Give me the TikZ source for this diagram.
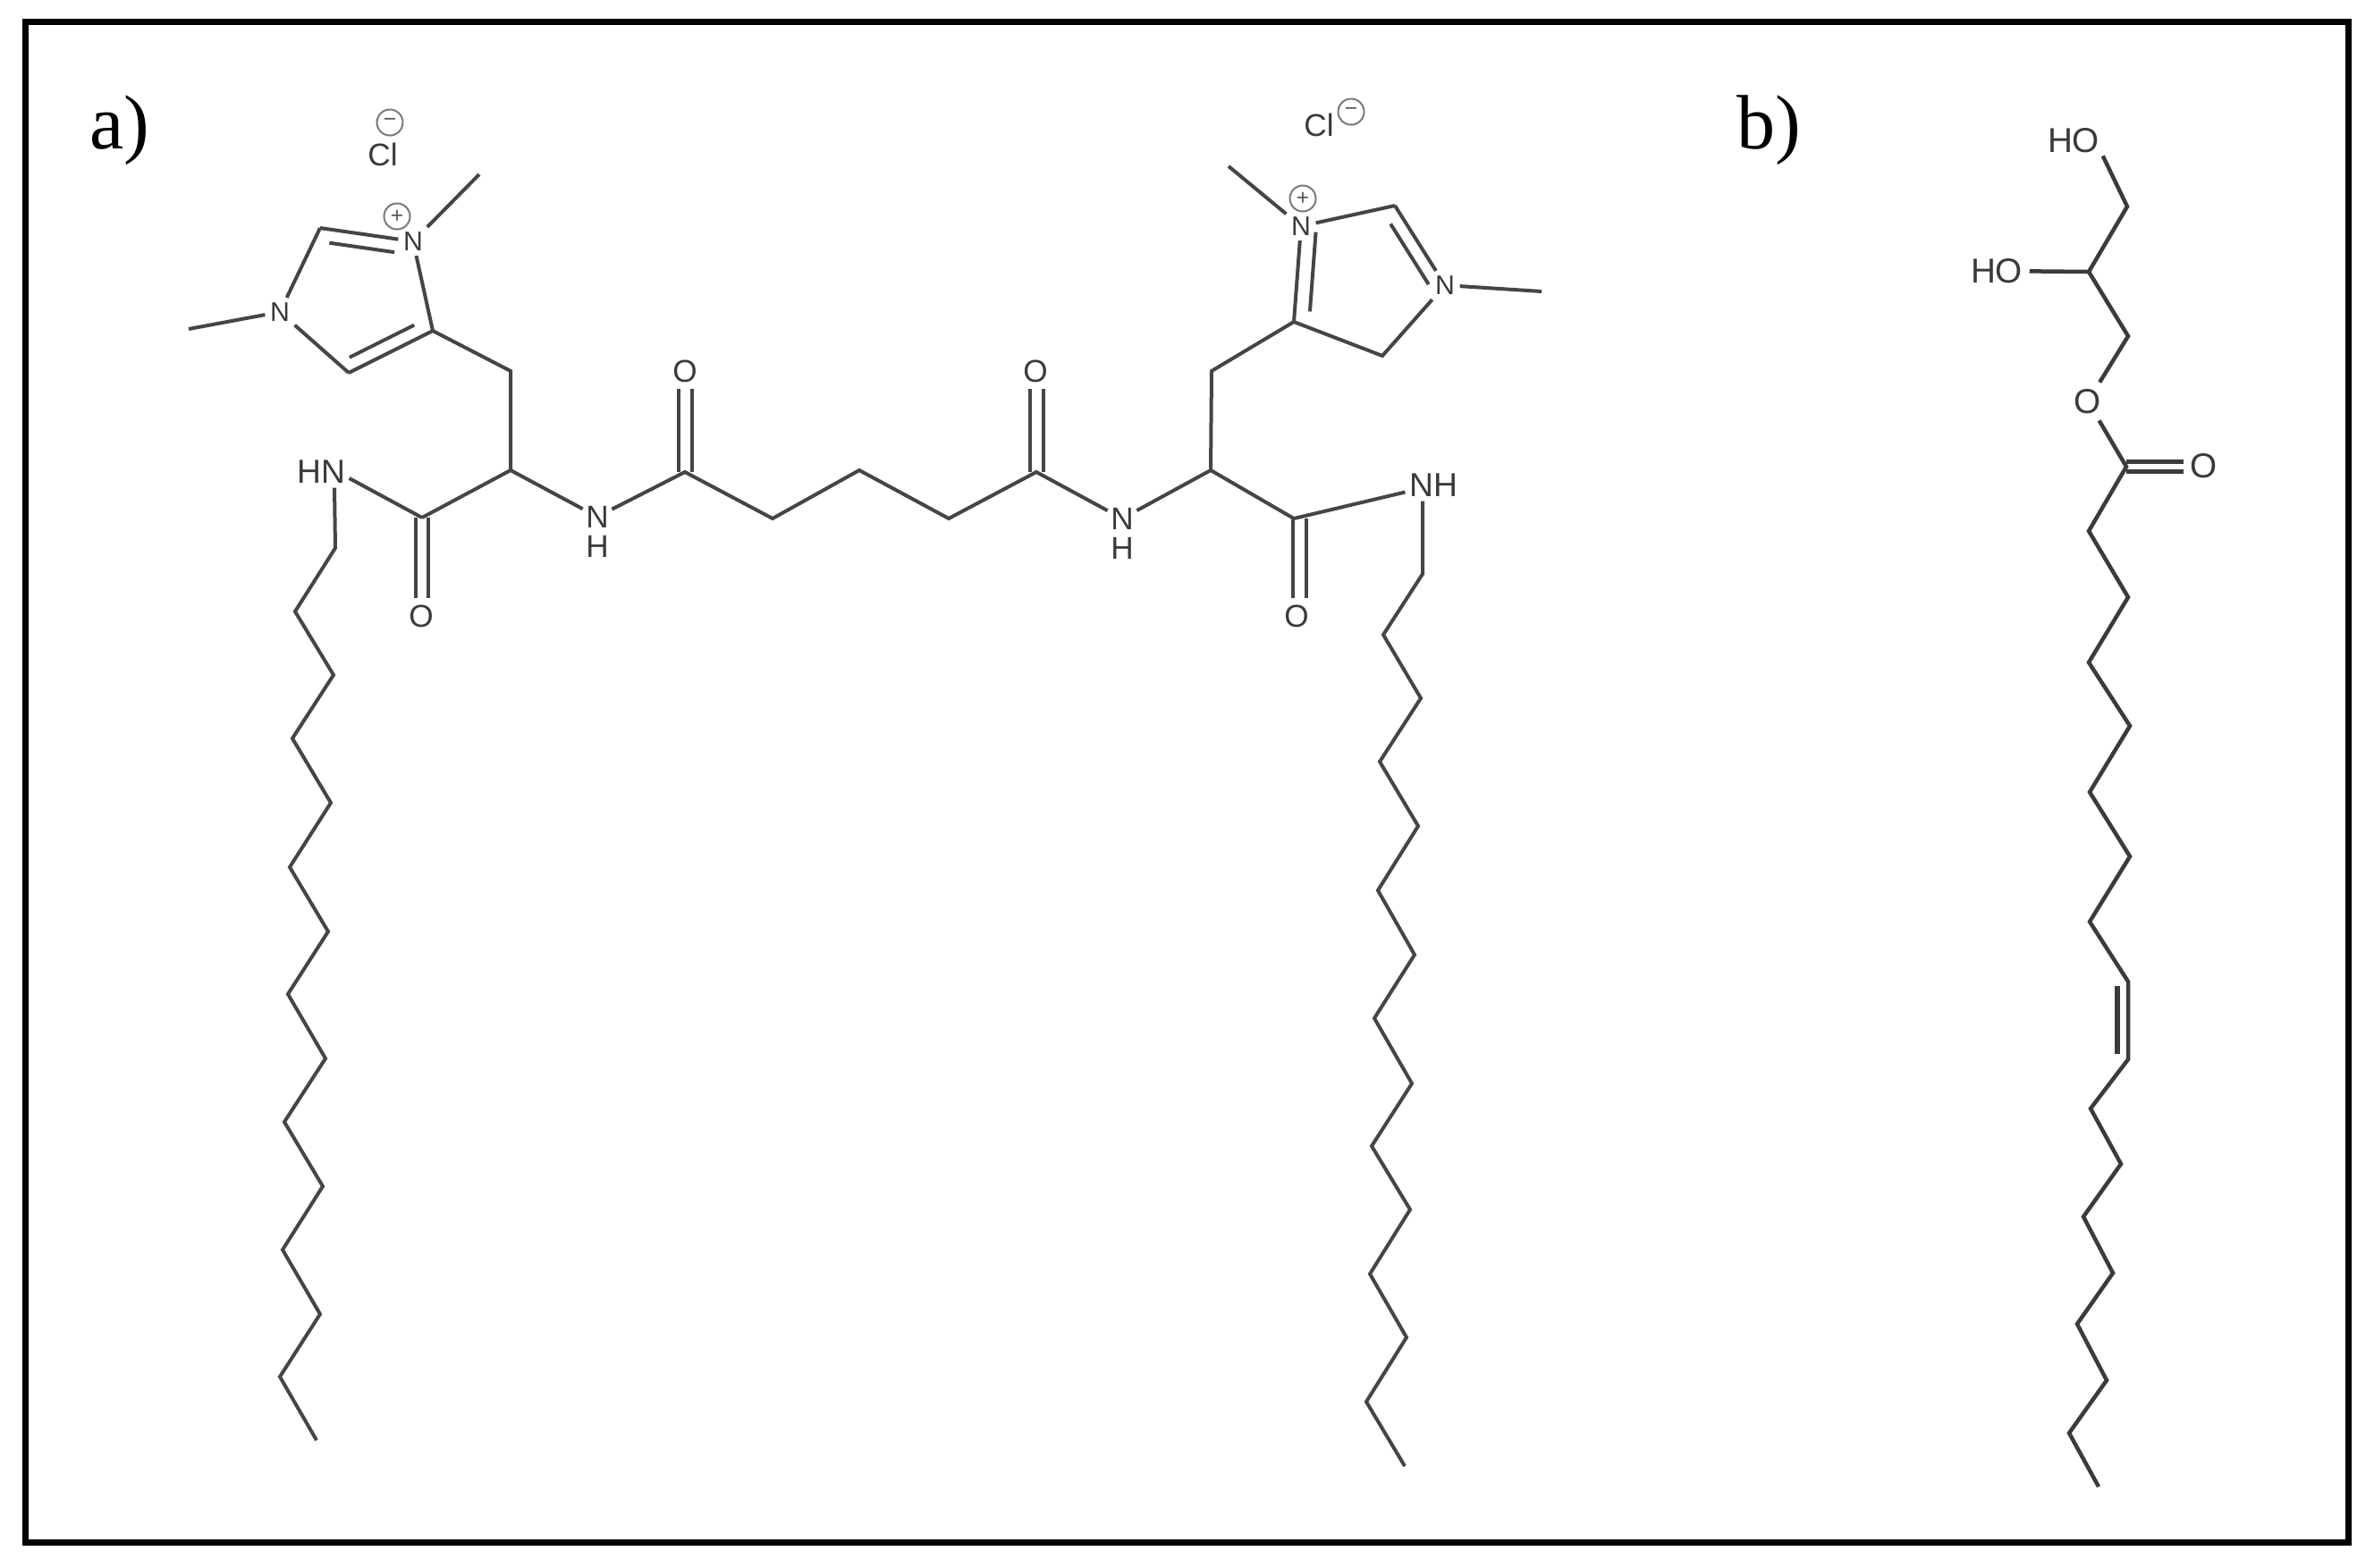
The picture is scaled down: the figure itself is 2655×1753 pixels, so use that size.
\documentclass[tikz,border=0pt]{standalone}
\usepackage{fontspec}
\setmainfont{Liberation Serif}
\setsansfont{Liberation Sans}
\usetikzlibrary{calc}
\definecolor{bondc}{HTML}{454545}
\definecolor{textc}{HTML}{3A3A3A}
\definecolor{chargec}{HTML}{7A7A7A}
% inner line of a double bond: from, to, start fraction, end fraction, offset, side angle
\newcommand{\innerbond}[6]{\draw[bond] ($($(#1)!#3!(#2)$)!#5!#6:(#2)$) -- ($($(#1)!#4!(#2)$)!#5!#6:(#2)$);}
\tikzset{
  bond/.style={draw=bondc,line width=.04cm,line join=miter},
  bondb/.style={draw=bondc!85!black,line width=.045cm,line join=miter},
  atom/.style={font=\sffamily\fontsize{10pt}{10pt}\selectfont,text=textc,inner sep=.07cm},
  atomw/.style={font=\sffamily\fontsize{10.6pt}{10.6pt}\selectfont,text=textc,inner sep=.04cm},
  atomsm/.style={font=\sffamily\fontsize{8.6pt}{9pt}\selectfont,text=textc,inner sep=.05cm},
  atomb/.style={font=\sffamily\fontsize{11pt}{11pt}\selectfont,text=textc,inner sep=.07cm},
  charge/.style={circle,draw=chargec,line width=.02cm,text=chargec!70!black,minimum size=.29cm,inner sep=0pt,font=\sffamily\fontsize{7pt}{7pt}\selectfont},
  panel/.style={font=\rmfamily\fontsize{24.5pt}{25pt}\selectfont,text=black,inner sep=0pt,anchor=base west},
  frameline/.style={draw=black,line width=.07cm}
}
\begin{document}
\begin{tikzpicture}[x=.01cm,y=-.01cm]
\useasboundingbox (0,0) rectangle (2655,1753);
\coordinate (fa) at (28.5,24.5);
\coordinate (fb) at (2626.5,1725.5);
\draw[frameline] (fa) rectangle (fb);
\node[panel] (la) at (100,166) {a)};
\node[panel] (lb) at (1942,166) {b)};

% ---- left head group
\node[atomsm] (NPl) at (462,270) {N};
\node[atomsm] (Nl) at (313,349) {N};
\node[charge] (plusl) at (444,242) {+};
\node[charge] (minl) at (436,137) {−};
\node[atom] (Cll) at (428,173) {Cl};
\node[atomw] (HNl) at (359,528) {HN};
\node[atom] (Ola) at (471,689) {O};
\node[atom] (Olb) at (766,415) {O};
\node[atom,inner sep=.03cm] (Nla) at (668,578) {N};
\node[atom,inner sep=.03cm] (Hla) at (668,611) {H};
\coordinate (MeTl) at (536,195);
\coordinate (MeLl) at (211,368);
\coordinate (C2l) at (358,255);
\coordinate (C5l) at (390,417);
\coordinate (C4l) at (484,370);
\coordinate (CH2l) at (571,415);
\coordinate (CHl) at (571,526);
\coordinate (COl) at (472,579);
\coordinate (COm) at (766,528);
\coordinate (m1) at (864,580);
\coordinate (m2) at (961,526);
\coordinate (m3) at (1061,580);
\coordinate (COn) at (1159,528);

% ---- right head group
\node[atomsm] (NPr) at (1455,253) {N};
\node[atomsm] (Nr) at (1616,319) {N};
\node[charge] (plusr) at (1457,222) {+};
\node[charge] (minr) at (1511,125) {−};
\node[atom] (Clr) at (1475,140) {Cl};
\node[atomw] (HNr) at (1603,543) {NH};
\node[atom] (Ora) at (1158,415) {O};
\node[atom] (Orb) at (1450,689) {O};
\node[atom,inner sep=.03cm] (Nra) at (1255,580) {N};
\node[atom,inner sep=.03cm] (Hra) at (1255,613) {H};
\coordinate (MeTr) at (1374,186);
\coordinate (MeRr) at (1724,326);
\coordinate (C2r) at (1560,230);
\coordinate (C5r) at (1546,398);
\coordinate (C4r) at (1447,360);
\coordinate (CH2r) at (1355,415);
\coordinate (CHr) at (1354,526);
\coordinate (COr) at (1447,580);

% carbonyl double bonds
\draw[bond] ([xshift=-.07cm]COl) -- ([xshift=-.07cm]COl |- Ola.north);
\draw[bond] ([xshift=.07cm]COl) -- ([xshift=.07cm]COl |- Ola.north);
\draw[bond] ([xshift=-.075cm]COm) -- ([xshift=-.075cm]COm |- Olb.south);
\draw[bond] ([xshift=.075cm]COm) -- ([xshift=.075cm]COm |- Olb.south);
\draw[bond] ([xshift=-.075cm]COn) -- ([xshift=-.075cm]COn |- Ora.south);
\draw[bond] ([xshift=.075cm]COn) -- ([xshift=.075cm]COn |- Ora.south);
\draw[bond] ([xshift=-.01cm]COr) -- ([xshift=-.01cm]COr |- Orb.north);
\draw[bond] ([xshift=.14cm]COr) -- ([xshift=.14cm]COr |- Orb.north);

% left ring
\draw[bond] (MeTl) -- (NPl);
\draw[bond] (C2l) -- (NPl);
\innerbond{C2l}{NPl}{.12}{.82}{.15cm}{-90}
\draw[bond] (NPl) -- (C4l);
\draw[bond] (C2l) -- (Nl);
\draw[bond] (Nl) -- (MeLl);
\draw[bond] (Nl) -- (C5l);
\draw[bond] (C5l) -- (C4l);
\innerbond{C5l}{C4l}{.08}{.85}{.15cm}{90}
\draw[bond] (C4l) -- (CH2l) -- (CHl) -- (COl);
\draw[bond] (COl) -- ([yshift=-.07cm]HNl.east);
\draw[bond] (CHl) -- (Nla);
\draw[bond] (Nla) -- (COm) -- (m1) -- (m2) -- (m3) -- (COn) -- (Nra);
\draw[bond] (Nra) -- (CHr);

% right ring
\draw[bond] (MeTr) -- (NPr);
\draw[bond] (NPr) -- (C2r);
\draw[bond] (C4r) -- (NPr);
\innerbond{C4r}{NPr}{.12}{.95}{.17cm}{-90}
\draw[bond] (C2r) -- (Nr);
\innerbond{C2r}{Nr}{.14}{.9}{.15cm}{-90}
\draw[bond] (Nr) -- (MeRr);
\draw[bond] (Nr) -- (C5r) -- (C4r) -- (CH2r) -- (CHr) -- (COr);
\draw[bond] (COr) -- (HNr);

% left tail
\foreach \n/\x/\y in {1/375/613,2/330/684,3/373/755,4/327/826,5/370/898,6/324/970,7/367/1042,8/322/1112,9/364/1184,10/318/1255,11/361/1327,12/316/1398,13/358/1470,14/313/1540,15/354/1611}
  \coordinate (tl\n) at (\x,\y);
\draw[bond] ([xshift=.15cm]HNl.south) -- (tl1) -- (tl2) -- (tl3) -- (tl4) -- (tl5) -- (tl6) -- (tl7) -- (tl8) -- (tl9) -- (tl10) -- (tl11) -- (tl12) -- (tl13) -- (tl14) -- (tl15);

% right tail
\foreach \n/\x/\y in {1/1591/642,2/1547/710,3/1589/781,4/1543/852,5/1586/924,6/1541/996,7/1582/1068,8/1537/1139,9/1579/1212,10/1534/1282,11/1577/1353,12/1532/1425,13/1573/1496,14/1528/1568,15/1571/1640}
  \coordinate (tr\n) at (\x,\y);
\draw[bond] ([xshift=-.12cm]HNr.south) -- (tr1) -- (tr2) -- (tr3) -- (tr4) -- (tr5) -- (tr6) -- (tr7) -- (tr8) -- (tr9) -- (tr10) -- (tr11) -- (tr12) -- (tr13) -- (tr14) -- (tr15);

% ---- panel b
\node[atomb,inner sep=.03cm] (HOa) at (2319,157) {HO};
\node[atomb,inner sep=.07cm] (HOb) at (2233,303) {HO};
\node[atomb] (Oe) at (2335,449) {O};
\node[atomb] (Oc) at (2465,521) {O};
\coordinate (g1) at (2379,231);
\coordinate (g2) at (2336,304);
\coordinate (g3) at (2380,376);
\coordinate (gc) at (2378,522);
\draw[bondb] ([yshift=.055cm]gc) -- ([yshift=.055cm]gc -| Oc.west);
\draw[bondb] ([yshift=-.055cm]gc) -- ([yshift=-.055cm]gc -| Oc.west);
\foreach \n/\x/\y in {1/2336/594,2/2380/668,3/2336/741,4/2382/812,5/2337/886,6/2382/958,7/2337/1031,8/2380/1098,9/2380/1185,10/2338/1240,11/2372/1302,12/2330/1361,13/2363/1424,14/2323/1481,15/2356/1544,16/2314/1603,17/2347/1663}
  \coordinate (o\n) at (\x,\y);
\draw[bondb] (HOa.south east) -- (g1) -- (g2) -- (g3) -- (Oe);
\draw[bondb] (HOb) -- (g2);
\draw[bondb] (Oe) -- (gc) -- (o1) -- (o2) -- (o3) -- (o4) -- (o5) -- (o6) -- (o7) -- (o8) -- (o9) -- (o10) -- (o11) -- (o12) -- (o13) -- (o14) -- (o15) -- (o16) -- (o17);
\coordinate (i1) at (2368,1103);
\coordinate (i2) at (2368,1179);
\draw[bondb,line width=.055cm] (i1) -- (i2);
\end{tikzpicture}
\end{document}
